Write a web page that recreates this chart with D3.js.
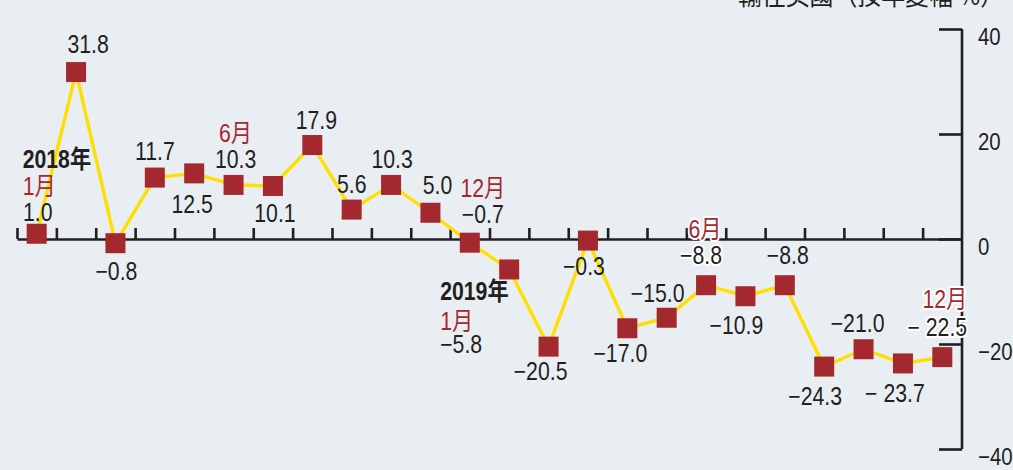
<!doctype html>
<html>
<head>
<meta charset="utf-8">
<script src="https://d3js.org/d3.v7.min.js"></script>
<style>
  body { margin: 0; background: #e9eef3; }
  svg { display: block; font-family: "Liberation Sans", Arial, "Noto Sans CJK TC", sans-serif; }
  .lbl { font-size: 25px; fill: #231f20; }
  .mon { font-size: 25px; fill: #a4292f; }
  .yr { font-size: 25px; font-weight: bold; fill: #231f20; }
  .halo { stroke: #fff; stroke-width: 4px; paint-order: stroke; stroke-linejoin: round; }
  .axis path, .axis line { stroke: #231f20; stroke-width: 2.6px; }
  .axis text { font-size: 24px; fill: #231f20; font-family: "Liberation Sans", Arial, sans-serif; }
</style>
</head>
<body>
<div id="chart"></div>
<script>
// monthly export growth to the US, Jan 2018 - Dec 2019 (% yoy)
var values = [1.0, 31.8, -0.8, 11.7, 12.5, 10.3, 10.1, 17.9, 5.6, 10.3, 5.0, -0.7,
              -5.8, -20.5, -0.3, -17.0, -15.0, -8.8, -10.9, -8.8, -24.3, -21.0, -23.7, -22.5];
var yTicks = [40, 20, 0, -20, -40];
var title = "輸往美國（按年變幅 %）";

// month / year callouts: [point index, month text, year text]
var callouts = [[0, "1月", "2018年"], [5, "6月", null], [11, "12月", null],
                [12, "1月", "2019年"], [17, "6月", null], [23, "12月", null]];

// value label placement relative to marker [dx, dy]
var labelPos = [
  [1, -13], [12, -19], [1, 37], [0, -18], [-2, 40], [2, -17], [2, 36], [4, -16],
  [0, -17], [1, -17], [7, -19], [13, -20], [-48, 84], [-8, 33], [-4, 34], [-7, 34],
  [-9, -16], [-5, -21], [-9, 38], [3, -21], [-9, 38], [-6, -17], [-8, 39], [-5, -21]
];
var spacedMinus = [22, 23];
var haloIdx = [17, 23];

var W = 1013, H = 470, SQ = 0.85; // condensed type
var svg = d3.select("#chart").append("svg").attr("width", W).attr("height", H);

var x = d3.scaleBand().domain(d3.range(values.length)).range([17, 962]).padding(0);
var xEdge = d3.scaleLinear().domain([0, values.length]).range([17, 962]);
var y = d3.scaleLinear().domain([-40, 40]).range([449, 29]);
var cx = function(i) { return x(i) + x.bandwidth() / 2; };

function put(t, px, py) {
  return t.attr("x", 0).attr("y", 0)
    .attr("transform", "translate(" + px + "," + py + ") scale(" + SQ + ",1)");
}

// title (cut off at top)
svg.append("text").attr("x", 738).attr("y", 5)
  .attr("textLength", 266).attr("lengthAdjust", "spacingAndGlyphs")
  .style("font-family", "'Noto Sans CJK TC', sans-serif")
  .style("font-size", "27px").style("fill", "#231f20")
  .text(title);

// x axis (ticks upward at month boundaries)
svg.append("g").attr("class", "axis")
  .attr("transform", "translate(0," + y(0) + ")")
  .call(d3.axisTop(xEdge).tickValues(d3.range(values.length)).tickSize(11).tickSizeOuter(0).tickFormat(""));

// right axis
var ya = svg.append("g").attr("class", "axis")
  .attr("transform", "translate(962,0)")
  .call(d3.axisRight(y).tickValues(yTicks).tickSize(-23).tickSizeOuter(0).tickPadding(16)
    .tickFormat(d3.format("d")));
ya.selectAll("text").attr("dy", null).each(function() { put(d3.select(this), 16, 15); });
ya.select(".domain").attr("d", "M0," + y(40) + "V" + y(-40));

// line
svg.append("path").datum(values)
  .attr("fill", "none").attr("stroke", "#ffdf00").attr("stroke-width", 3.4)
  .attr("d", d3.line().x(function(d, i) { return cx(i); }).y(function(d) { return y(d); }));

// markers
svg.selectAll("rect.m").data(values).enter().append("rect")
  .attr("class", "m")
  .attr("x", function(d, i) { return cx(i) - 10; })
  .attr("y", function(d) { return y(d) - 10; })
  .attr("width", 20).attr("height", 20)
  .attr("fill", "#a4292f");

// value labels
var fmt = d3.format(".1f");
values.forEach(function(d, i) {
  var s = fmt(d);
  if (spacedMinus.indexOf(i) >= 0) s = s.replace("−", "− ");
  var t = svg.append("text")
    .attr("class", "lbl" + (haloIdx.indexOf(i) >= 0 ? " halo" : ""))
    .attr("text-anchor", "middle").text(s);
  put(t, cx(i) + labelPos[i][0], y(d) + labelPos[i][1]);
});

// month / year callouts
callouts.forEach(function(c) {
  var i = c[0], p = labelPos[i];
  var lx = cx(i) + p[0], ly = y(values[i]) + p[1];
  var anchor = "middle", mx = lx;
  if (i === 0) { anchor = "start"; mx = lx - 15; }
  if (i === 12) { anchor = "start"; mx = lx - 21; }
  if (i === 23) { anchor = "end"; mx = lx + 30; }
  if (i === 17) mx = lx + 4;
  var gap = i === 12 ? 23 : (i === 23 ? 28 : 26);
  var m = svg.append("text").attr("class", "mon" + (i >= 17 ? " halo" : ""))
    .attr("text-anchor", anchor).text(c[1]);
  put(m, mx, ly - gap);
  if (c[2]) {
    var yr = svg.append("text").attr("class", "yr").attr("text-anchor", anchor).text(c[2]);
    put(yr, mx, ly - gap - (i === 12 ? 30 : 27));
  }
});
</script>
</body>
</html>
